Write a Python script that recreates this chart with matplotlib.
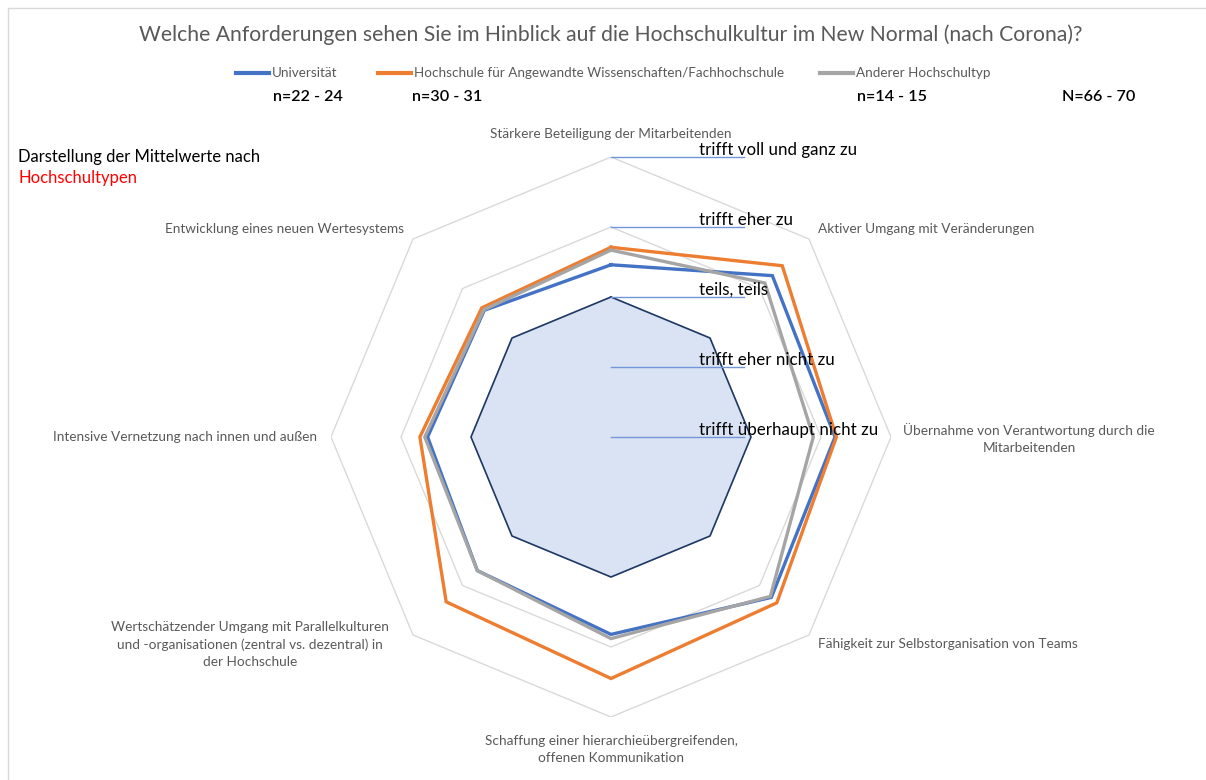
import numpy as np
import matplotlib
matplotlib.use("Agg")
import matplotlib.pyplot as plt
from matplotlib.lines import Line2D
from matplotlib.patches import Rectangle

plt.rcParams['font.family'] = ['Lato', 'DejaVu Sans']

# Kategorien (im Uhrzeigersinn ab oben)
categories = [
    "Stärkere Beteiligung der Mitarbeitenden",
    "Aktiver Umgang mit Veränderungen",
    "Übernahme von Verantwortung durch die\nMitarbeitenden",
    "Fähigkeit zur Selbstorganisation von Teams",
    "Schaffung einer hierarchieübergreifenden,\noffenen Kommunikation",
    "Wertschätzender Umgang mit Parallelkulturen\nund -organisationen (zentral vs. dezentral) in\nder Hochschule",
    "Intensive Vernetzung nach innen und außen",
    "Entwicklung eines neuen Wertesystems",
]

universitaet = [3.46, 4.26, 4.20, 4.24, 3.82, 3.70, 3.62, 3.56]
haw_fh = [3.71, 4.46, 4.22, 4.35, 4.45, 4.33, 3.73, 3.61]
andere = [3.67, 4.11, 3.89, 4.22, 3.88, 3.70, 3.66, 3.57]
referenz = [3, 3, 3, 3, 3, 3, 3, 3]

series_names = ["Universität",
                "Hochschule für Angewandte Wissenschaften/Fachhochschule",
                "Anderer Hochschultyp"]
n_labels = ["n=22 - 24", "n=30 - 31", "n=14 - 15", "N=66 - 70"]

levels = [1, 2, 3, 4, 5]
level_labels = ["trifft überhaupt nicht zu", "trifft eher nicht zu", "teils, teils",
                "trifft eher zu", "trifft voll und ganz zu"]

blue = "#4472C4"
orange = "#ED7D31"
grey = "#A5A5A5"
textgrey = "#595959"

W, H = 1206, 780
fig = plt.figure(figsize=(W / 100, H / 100), dpi=100)

# Achse so platzieren, dass Mittelpunkt bei (611, 437) px und Radius 280 px liegt
cx, cy, R = 611, 437, 280
ax = fig.add_axes([(cx - R) / W, (H - cy - R) / H, 2 * R / W, 2 * R / H])
ax.set_xlim(-4, 4)
ax.set_ylim(-4, 4)
ax.axis("off")

n = len(categories)
angles = np.arange(n) * 2 * np.pi / n


def to_xy(values):
    r = np.array(values, dtype=float) - 1
    x = r * np.sin(angles)
    y = r * np.cos(angles)
    return np.append(x, x[0]), np.append(y, y[0])


# Gitternetz (Achteck)
for lv in levels[1:]:
    gx, gy = to_xy([lv] * n)
    ax.plot(gx, gy, color="#D9D9D9", lw=1.0, zorder=1)

# Referenzfläche "teils, teils"
rx, ry = to_xy(referenz)
ax.fill(rx, ry, color="#DAE3F3", zorder=2)
ax.plot(rx, ry, color="#1F3864", lw=1.2, zorder=3)

# Skalenmarkierungen
for lv, lab in zip(levels, level_labels):
    ax.plot([0, 1.9], [lv - 1, lv - 1], color="#7396D8", lw=1.0, zorder=4, clip_on=False)
    ax.text(1.26, lv - 1 + 0.1, lab, fontsize=12.2, color="black", ha="left", va="center",
            zorder=6, clip_on=False)

# Datenreihen
for vals, col in [(universitaet, blue), (haw_fh, orange), (andere, grey)]:
    x, y = to_xy(vals)
    ax.plot(x, y, color=col, lw=2.4, zorder=5, solid_joinstyle="miter")

# Kategoriebeschriftungen
label_pos = [
    (0.0, 4.33, "center", "center"),
    (2.96, 2.97, "left", "center"),
    (5.97, -0.02, "center", "center"),
    (2.96, -2.96, "left", "center"),
    (0.0, -4.46, "center", "center"),
    (-5.16, -2.97, "center", "center"),
    (-4.2, 0.0, "right", "center"),
    (-2.96, 2.97, "right", "center"),
]
for cat, (lx, ly, ha, va) in zip(categories, label_pos):
    ax.text(lx, ly, cat, fontsize=9.8, color=textgrey, ha=ha, va=va,
            multialignment="center", linespacing=1.5, clip_on=False)

# Titel
fig.text(611 / W, 1 - 35 / H,
         "Welche Anforderungen sehen Sie im Hinblick auf die Hochschulkultur im New Normal (nach Corona)?",
         fontsize=15.2, color=textgrey, ha="center", va="center")

# Legende
legend_x = [236, 378, 820]
for lx, name, col in zip(legend_x, series_names, [blue, orange, grey]):
    fig.add_artist(Line2D([lx / W, (lx + 33) / W], [1 - 73 / H, 1 - 73 / H], color=col, lw=3))
    fig.text((lx + 36) / W, 1 - 73 / H, name, fontsize=9.7, color=textgrey, ha="left", va="center")

n_x = [273, 412, 857, 1062]
for nx, lab in zip(n_x, n_labels):
    fig.text(nx / W, 1 - 97 / H, lab, fontsize=11.6, color="black", ha="left", va="center",
             fontweight="semibold")

fig.text(18 / W, 1 - 157 / H, "Darstellung der Mittelwerte nach", fontsize=12,
         color="black", ha="left", va="center")
fig.text(18 / W, 1 - 178 / H, "Hochschultypen", fontsize=12, color="red", ha="left", va="center")

# Rahmen
fig.add_artist(Rectangle((8 / W, -0.01), 1.0, 1 - 8 / H + 0.01, transform=fig.transFigure,
                         fill=False, edgecolor="#D9D9D9", lw=1.0))

fig.savefig("out.png", dpi=100, facecolor="white")
